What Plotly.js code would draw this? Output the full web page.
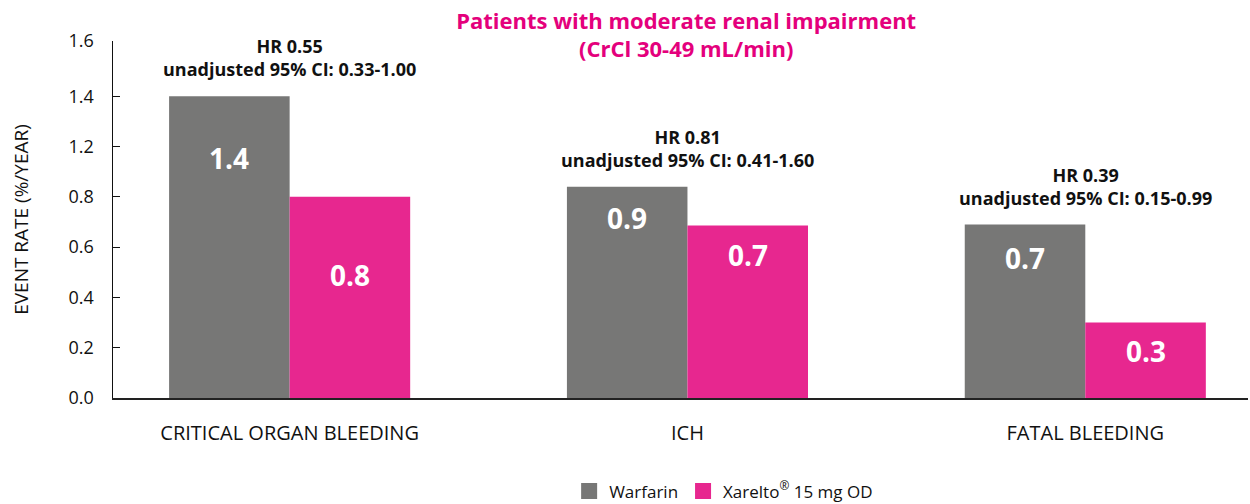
<!DOCTYPE html>
<html>
<head>
<meta charset="utf-8">
<script src="https://cdn.plot.ly/plotly-3.0.1.min.js"></script>
<style>html,body{margin:0;padding:0;background:#fff;}#chart{width:1250px;height:504px;}</style>
</head>
<body>
<div id="chart"></div>
<script>
const categories = ["CRITICAL ORGAN BLEEDING", "ICH", "FATAL BLEEDING"];
const warfarin = [1.2, 0.84, 0.69];
const xarelto = [0.80, 0.686, 0.30];
const warfarinLabels = ["1.4", "0.9", "0.7"];
const xareltoLabels = ["0.8", "0.7", "0.3"];
const hrLabels = ["HR 0.55", "HR 0.81", "HR 0.39"];
const ciLabels = ["unadjusted 95% CI: 0.33-1.00", "unadjusted 95% CI: 0.41-1.60", "unadjusted 95% CI: 0.15-0.99"];
const seriesNames = ["Warfarin", "Xarelto<sup>®</sup> 15 mg OD"];
const yTickVals = [0, 0.2, 0.4, 0.6, 0.8, 1.0, 1.2, 1.42];
const yTickText = ["0.0", "0.2", "0.4", "0.6", "0.8", "1.2", "1.4", "1.6"];

const FONT = "Open Sans, Noto Sans, sans-serif";
const GRAY = "#777776";
const MAGENTA = "#E7278F";
const BARGAP = 0.394;
const half = (1 - BARGAP) / 4;

const traces = [
  {type: "bar", name: seriesNames[0], legendgroup: "w", showlegend: false, x: categories, y: warfarin, marker: {color: GRAY}, hoverinfo: "y"},
  {type: "bar", name: seriesNames[1], legendgroup: "x", showlegend: false, x: categories, y: xarelto, marker: {color: MAGENTA}, hoverinfo: "y"},
  {type: "scatter", mode: "markers", name: seriesNames[0], legendgroup: "w", x: [null], y: [null],
    marker: {symbol: "square", size: 20, color: GRAY}, hoverinfo: "skip"},
  {type: "scatter", mode: "markers", name: seriesNames[1], legendgroup: "x", x: [null], y: [null],
    marker: {symbol: "square", size: 20, color: MAGENTA}, hoverinfo: "skip"}
];

const annotations = [];
const wShift = [-62, -31, -33];
const xShift = [-78, -29, -28];
categories.forEach((c, i) => {
  annotations.push({x: i - half, y: warfarin[i], xref: "x", yref: "y", text: "<b>" + warfarinLabels[i] + "</b>",
    showarrow: false, yanchor: "middle", yshift: wShift[i], font: {family: FONT, size: 28, color: "#fff"}});
  annotations.push({x: i + half, y: xarelto[i], xref: "x", yref: "y", text: "<b>" + xareltoLabels[i] + "</b>",
    showarrow: false, yanchor: "middle", yshift: xShift[i], font: {family: FONT, size: 28, color: "#fff"}});
  annotations.push({x: i, y: Math.max(warfarin[i], xarelto[i]), xref: "x", yref: "y",
    text: "<b>" + hrLabels[i] + "<br>" + ciLabels[i] + "</b>", showarrow: false, yanchor: "bottom", yshift: 13,
    font: {family: FONT, size: 18, color: "#111"}});
});

const layout = {
  width: 1250, height: 504,
  margin: {l: 113, r: 2, t: 41, b: 105.5, autoexpand: false},
  paper_bgcolor: "#fff", plot_bgcolor: "#fff",
  font: {family: FONT, color: "#111"},
  title: {text: "<b>Patients with moderate renal impairment<br>(CrCl 30-49 mL/min)</b>",
    font: {family: FONT, size: 22, color: "#E4007C"}, x: 0.505, xanchor: "center", xref: "paper", y: 0.943, yanchor: "middle"},
  barmode: "group", bargap: BARGAP, bargroupgap: 0,
  xaxis: {type: "category", range: [-0.444, 2.409], showline: true, linecolor: "#222", linewidth: 1.5,
    ticks: "", showgrid: false, zeroline: false, tickfont: {family: FONT, size: 20, color: "#111"}, ticklabelstandoff: 16},
  yaxis: {range: [0, 1.42], tickmode: "array", tickvals: yTickVals, ticktext: yTickText,
    showline: true, linecolor: "#111", linewidth: 1.5, ticks: "inside", ticklen: 7, tickcolor: "#111",
    showgrid: false, zeroline: false, tickfont: {family: FONT, size: 18, color: "#111"}, ticklabelstandoff: 14,
    title: {text: "EVENT RATE (%/YEAR)", font: {family: FONT, size: 19, color: "#111"}, standoff: 35}},
  showlegend: true,
  legend: {orientation: "h", x: 0.538, xanchor: "center", y: -0.2615, yanchor: "middle",
    font: {family: FONT, size: 17, color: "#111"}, itemwidth: 30, traceorder: "normal"},
  annotations: annotations
};

Plotly.newPlot("chart", traces, layout, {displayModeBar: false, staticPlot: true});
</script>
</body>
</html>
